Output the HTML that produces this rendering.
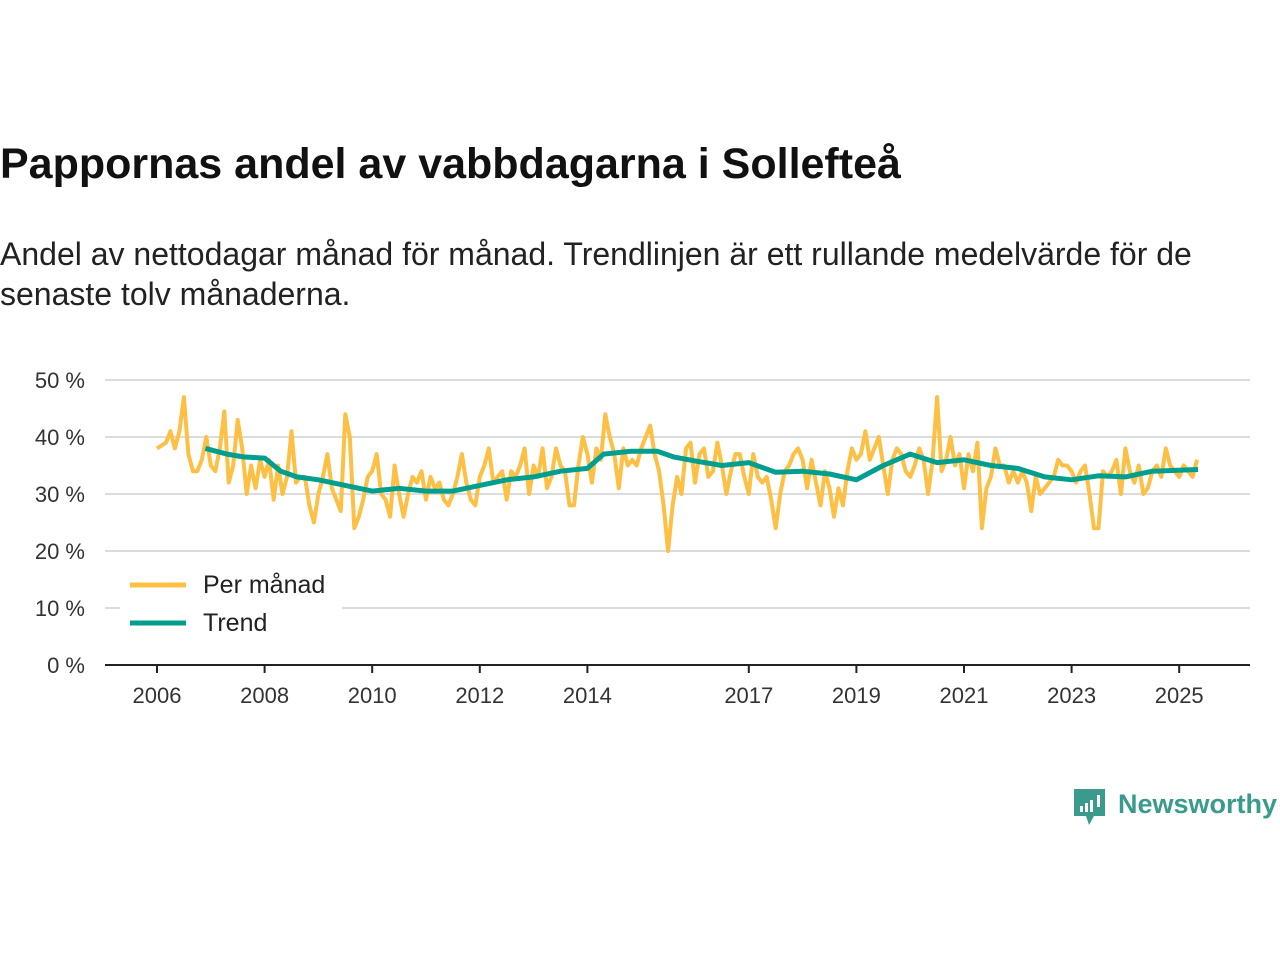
<!DOCTYPE html>
<html><head><meta charset="utf-8">
<style>
body{margin:0;width:1280px;height:960px;background:#fff;font-family:"Liberation Sans",sans-serif;color:#111;overflow:hidden;position:relative}
#title{position:absolute;left:0;top:140px;font-size:43px;font-weight:bold;margin:0;white-space:nowrap}
#sub{position:absolute;left:0;top:234px;font-size:32px;line-height:40px;margin:0;width:1240px;color:#222}
svg{position:absolute;left:0;top:0}
</style></head>
<body>
<h1 id="title">Pappornas andel av vabbdagarna i Sollefteå</h1>
<p id="sub">Andel av nettodagar månad för månad. Trendlinjen är ett rullande medelvärde för de senaste tolv månaderna.</p>
<svg id="chart" width="1280" height="960"></svg>
<script>
const yTicks=[0,10,20,30,40,50];
const xTickYears=[2006,2008,2010,2012,2014,2017,2019,2021,2023,2025];
const startYear=2006;
const monthly=[
38,38.5,39,41,38,41,47,37,34,34,36,40,
35,34,38,44.5,32,35,43,38,30,35,31,36,
33,36,29,35,30,33,41,32,33,33,28,25,
30,33,37,31,29,27,44,40,24,26,29,33,
34,37,30,29,26,35,30,26,30,33,32,34,
29,33,31,32,29,28,30,33,37,32,29,28,
33,35,38,32,33,34,29,34,33,35,38,30,
35,33,38,31,33,38,35,34,28,28,35,40,
37,32,38,36,44,40,37,31,38,35,36,35,
38,40,42,37,34,28,20,28,33,30,38,39,
32,37,38,33,34,39,35,30,34,37,37,33,
30,37,33,32,33,29,24,30,34,35,37,38,
36,31,36,32,28,34,31,26,31,28,34,38,
36,37,41,36,38,40,35,30,36,38,37,34,
33,35,38,36,30,36,47,34,36,40,35,37,
31,37,34,39,24,31,33,38,35,35,32,34,
32,34,32,27,33,30,31,32,33,36,35,35,
34,32,34,35,30,24,24,34,33,34,36,30,
38,34,32,35,30,31,34,35,33,38,35,34,
33,35,34,33,36];
const trendDates=[2006.9,2007.3,2007.6,2008.0,2008.3,2008.6,2009.0,2009.5,2010.0,2010.5,2011.0,2011.5,2012.0,2012.5,2013.0,2013.5,2014.0,2014.3,2014.8,2015.3,2015.6,2016.0,2016.5,2017.0,2017.5,2018.0,2018.5,2019.0,2019.5,2020.0,2020.5,2021.0,2021.5,2022.0,2022.5,2023.0,2023.5,2024.0,2024.5,2025.35];
const trendValues=[38,37,36.5,36.3,34,33,32.5,31.5,30.5,31,30.5,30.5,31.5,32.5,33,34,34.5,37,37.5,37.5,36.5,35.8,35,35.5,33.8,34,33.5,32.5,35,37,35.5,36,35,34.5,33,32.5,33.2,33,34,34.3];

const svg=document.getElementById('chart');
const NS='http://www.w3.org/2000/svg';
const x0=157,pxYear=53.8,yBase=665,pxPct=5.7;
const X=t=>x0+(t-startYear)*pxYear;
const Y=v=>yBase-v*pxPct;
function mk(tag,attrs,parent){const e=document.createElementNS(NS,tag);for(const k in attrs)e.setAttribute(k,attrs[k]);(parent||svg).appendChild(e);return e;}

yTicks.forEach(v=>{
  if(v>0){const l=mk('line',{x1:105,x2:1250,y1:Y(v),y2:Y(v),stroke:'#dcdcdc','stroke-width':2});
  
  }
  const t=mk('text',{x:85,y:Y(v)+8,'text-anchor':'end','font-size':22,fill:'#333','font-family':'Liberation Sans, sans-serif'});
  t.textContent=v+' %';
  
  
});
const ax=mk('line',{x1:105,x2:1250,y1:yBase,y2:yBase,stroke:'#222','stroke-width':2});


xTickYears.forEach(yr=>{
  const tk=mk('line',{x1:X(yr),x2:X(yr),y1:yBase,y2:yBase+8,stroke:'#222','stroke-width':2});
  
  
  const t=mk('text',{x:X(yr),y:703,'text-anchor':'middle','font-size':22,fill:'#333','font-family':'Liberation Sans, sans-serif'});
  t.textContent=yr;
  
  
});
const mp=monthly.map((v,i)=>X(startYear+i/12).toFixed(1)+','+Y(v).toFixed(1)).join(' ');
const l1=mk('polyline',{points:mp,fill:'none',stroke:'#fdbf44','stroke-width':4,'stroke-linejoin':'round'});


const tp=trendDates.map((d,i)=>X(d).toFixed(1)+','+Y(trendValues[i]).toFixed(1)).join(' ');
const l2=mk('polyline',{points:tp,fill:'none',stroke:'#009e8e','stroke-width':5,'stroke-linejoin':'round'});



const lg=mk('g',{});


mk('rect',{x:120,y:565,width:222,height:78,fill:'#fff'},lg);
mk('line',{x1:130,x2:186,y1:585,y2:585,stroke:'#fdbf44','stroke-width':5},lg);
mk('line',{x1:130,x2:186,y1:623,y2:623,stroke:'#009e8e','stroke-width':5},lg);
const a=mk('text',{x:203,y:593,'font-size':25,fill:'#222','font-family':'Liberation Sans, sans-serif'},lg);a.textContent='Per månad';


const b=mk('text',{x:203,y:631,'font-size':25,fill:'#222','font-family':'Liberation Sans, sans-serif'},lg);b.textContent='Trend';



const logo=mk('g',{});


mk('path',{d:'M1074,789 h31 v27 h-11 l-5,9 l-3,-9 h-12 z',fill:'#3a9a8c'},logo);
mk('rect',{x:1080,y:806,width:3,height:6,fill:'#fff'},logo);
mk('rect',{x:1085,y:803,width:3,height:9,fill:'#fff'},logo);
mk('rect',{x:1090,y:800,width:3,height:12,fill:'#fff'},logo);
mk('rect',{x:1097,y:795,width:3,height:12,fill:'#fff'},logo);
const nt=mk('text',{x:1118,y:813,'font-size':27,'font-weight':'bold',fill:'#3a9a8c','font-family':'Liberation Sans, sans-serif'},logo);
nt.textContent='Newsworthy';
</script>
</body></html>
